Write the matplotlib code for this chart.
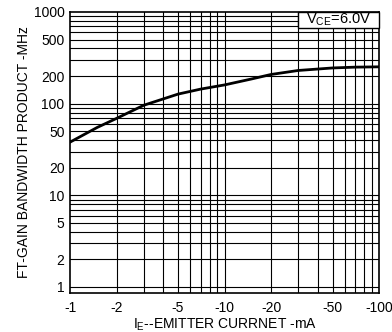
import matplotlib
matplotlib.use("Agg")
import matplotlib.pyplot as plt
from matplotlib.patches import Rectangle

# data (|IE| in mA, fT in MHz)
ie_mag = [1, 1.5, 2, 3, 5, 7, 10, 15, 20, 30, 50, 70, 100]
ft_mhz = [38, 55, 69, 96, 127, 144, 160, 186, 208, 230, 245, 250, 252]

xticks = [1, 2, 5, 10, 20, 50, 100]
xticklabels = ["-1", "-2", "-5", "-10", "-20", "-50", "-100"]
yticks = [1, 2, 5, 10, 20, 50, 100, 200, 500, 1000]
yticklabels = ["1", "2", "5", "10", "20", "50", "100", "200", "500", "1000"]

plt.rcParams['font.family'] = ['Liberation Sans', 'DejaVu Sans']
fig = plt.figure(figsize=(3.92, 3.32), dpi=100)
ax = fig.add_axes([0.1786, 0.1175, 0.7884, 0.8465])
ax.set_xscale('log')
ax.set_yscale('log')
ax.set_xlim(1, 100)
ax.set_ylim(0.86, 1000)

# grid lines
for dec in [1, 10]:
    for m in range(2, 10):
        ax.axvline(dec * m, color='black', lw=0.8, zorder=1)
ax.axvline(10, color='black', lw=0.8, zorder=1)
for dec in [1, 10, 100]:
    for m in range(1, 10):
        ax.axhline(dec * m, color='black', lw=0.8, zorder=1)

ax.plot(ie_mag, ft_mhz, color='black', lw=2.0, zorder=3)

ax.set_xticks(xticks)
ax.set_xticklabels(xticklabels)
ax.set_yticks(yticks)
ax.set_yticklabels(yticklabels)
ax.minorticks_off()
ax.tick_params(axis='x', length=0, labelsize=10, pad=6)
ax.tick_params(axis='y', length=0, labelsize=10, pad=4)
for s in ax.spines.values():
    s.set_linewidth(1.2)

ax.set_ylabel("FT-GAIN BANDWIDTH PRODUCT -MHz", fontsize=10, labelpad=2)
ax.set_xlabel("I$_\\mathregular{E}$--EMITTER CURRNET -mA", fontsize=10, labelpad=1)

ax.add_patch(Rectangle((0.738, 0.943), 0.262, 0.057, transform=ax.transAxes,
                       fc='white', ec='black', lw=1.0, zorder=5, clip_on=False))
ax.text(0.869, 0.971, "V$_\\mathregular{CE}$=6.0V", transform=ax.transAxes,
        ha='center', va='center', fontsize=10.5, zorder=6)

fig.savefig("out.png", dpi=100)
